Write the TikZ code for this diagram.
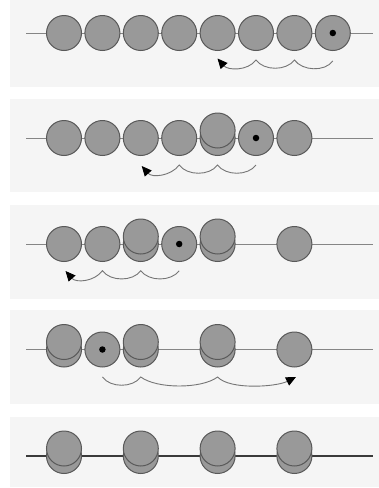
\documentclass[tikz,border=0pt]{standalone}
\usetikzlibrary{arrows.meta}
\definecolor{panelbg}{HTML}{F5F5F5}
\definecolor{beadfill}{HTML}{999999}
\definecolor{beadline}{HTML}{595959}
\definecolor{wirecol}{HTML}{858585}
\definecolor{wiredark}{HTML}{3A3A3A}
\definecolor{wavecol}{HTML}{757575}
\begin{document}
\begin{tikzpicture}[x=1pt,y=-1pt,
  bead/.style={circle,draw=beadline,fill=beadfill,line width=1pt,minimum size=35pt,inner sep=0pt},
  beaddot/.style={circle,fill=black,minimum size=6.5pt,inner sep=0pt},
  wire/.style={draw=wirecol,line width=0.9pt},
  darkwire/.style={draw=wiredark,line width=1.2pt},
  wave/.style={draw=wavecol,line width=0.9pt,-{Triangle[length=10pt,width=9pt,color=black]}},
  panel/.style={fill=panelbg,draw=none}]
\useasboundingbox (0,0) rectangle (379,488);
\fill[white] (0,0) rectangle (379,488);
% panels
\fill[panel] (10,0) rectangle (379,86.5);
\fill[panel] (10,98.5) rectangle (379,191.5);
\fill[panel] (10,205) rectangle (379,298.5);
\fill[panel] (10,310) rectangle (379,403.5);
\fill[panel] (10,416.5) rectangle (379,486.5);

% ---------- panel 1 ----------
\coordinate (w1a) at (26,33); \coordinate (w1b) at (373,33);
\draw[wire] (w1a) -- (w1b);
\foreach \i in {0,...,7} \node[bead] (p1b\i) at ({64+38.4*\i},33) {};
\node[beaddot] (p1d) at (p1b7) {};
\coordinate (p1s) at (332.8,61); \coordinate (p1c1) at (294.4,60);
\coordinate (p1c2) at (256,60); \coordinate (p1e) at (217.5,58.5);
\draw[wave] (p1s) .. controls +(-8,11) and +(8,11) .. (p1c1)
  .. controls +(-8,11) and +(8,11) .. (p1c2)
  .. controls +(-8,11) and +(10.5,12) .. (p1e);

% ---------- panel 2 ----------
\coordinate (w2a) at (26,138); \coordinate (w2b) at (373,138);
\draw[wire] (w2a) -- (w2b);
\foreach \i in {0,1,2,3,5,6} \node[bead] (p2b\i) at ({64+38.4*\i},138) {};
\node[bead] (p2l4) at (217.6,138) {};
\node[bead] (p2u4) at (217.6,130.5) {};
\node[beaddot] (p2d) at (p2b5) {};
\coordinate (p2s) at (256,165); \coordinate (p2c1) at (217.6,165);
\coordinate (p2c2) at (179.2,165); \coordinate (p2e) at (141.7,166);
\draw[wave] (p2s) .. controls +(-8,11) and +(8,11) .. (p2c1)
  .. controls +(-8,11) and +(8,11) .. (p2c2)
  .. controls +(-8,11) and +(10.5,12) .. (p2e);

% ---------- panel 3 ----------
\coordinate (w3a) at (26,244); \coordinate (w3b) at (373,244);
\draw[wire] (w3a) -- (w3b);
\foreach \i in {0,1,3,6} \node[bead] (p3b\i) at ({64+38.4*\i},244) {};
\foreach \i in {2,4} {
  \node[bead] (p3l\i) at ({64+38.4*\i},244) {};
  \node[bead] (p3u\i) at ({64+38.4*\i},236.5) {};
}
\node[beaddot] (p3d) at (p3b3) {};
\coordinate (p3s) at (179.2,270.7); \coordinate (p3c1) at (140.8,270.7);
\coordinate (p3c2) at (102.4,270.7); \coordinate (p3e) at (65.5,271);
\draw[wave] (p3s) .. controls +(-8,11) and +(8,11) .. (p3c1)
  .. controls +(-8,11) and +(8,11) .. (p3c2)
  .. controls +(-8,11) and +(10.5,12) .. (p3e);

% ---------- panel 4 ----------
\coordinate (w4a) at (26,349.5); \coordinate (w4b) at (373,349.5);
\draw[wire] (w4a) -- (w4b);
\foreach \i in {1,6} \node[bead] (p4b\i) at ({64+38.4*\i},349.5) {};
\foreach \i in {0,2,4} {
  \node[bead] (p4l\i) at ({64+38.4*\i},349.5) {};
  \node[bead] (p4u\i) at ({64+38.4*\i},342) {};
}
\node[beaddot] (p4d) at (p4b1) {};
\coordinate (p4s) at (102.4,377); \coordinate (p4c1) at (140.8,377);
\coordinate (p4c2) at (217.6,377); \coordinate (p4e) at (296,377);
\draw[wave] (p4s) .. controls +(8,11) and +(-8,11) .. (p4c1)
  .. controls +(16,12) and +(-16,12) .. (p4c2)
  .. controls +(12,13) and +(-20,10) .. (p4e);

% ---------- panel 5 ----------
\coordinate (w5a) at (26,456); \coordinate (w5b) at (373,456);
\draw[darkwire] (w5a) -- (w5b);
\foreach \i in {0,2,4,6} {
  \node[bead] (p5l\i) at ({64+38.4*\i},456) {};
  \node[bead] (p5u\i) at ({64+38.4*\i},448.5) {};
}
\end{tikzpicture}
\end{document}
